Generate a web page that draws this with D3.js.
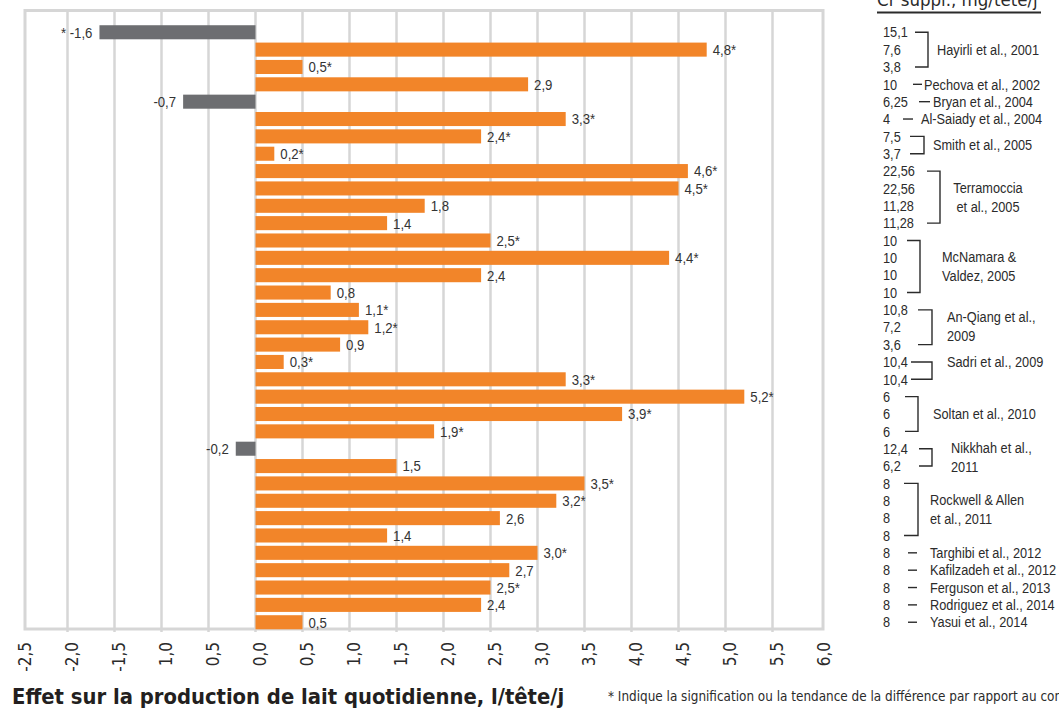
<!DOCTYPE html>
<html><head><meta charset="utf-8">
<script src="https://cdn.jsdelivr.net/npm/d3@7"></script>
<style>
html,body{margin:0;padding:0;background:#fff;}
svg{display:block;}
text{font-family:"Liberation Sans",Arial,sans-serif;}
.cond{font-family:"DejaVu Sans Condensed","DejaVu Sans",sans-serif;font-stretch:condensed;}
</style></head>
<body><svg id="c" width="1059" height="710"></svg>
<script>
// ---- data ----
const values = [-1.66, 4.8, 0.5, 2.9, -0.77, 3.3, 2.4, 0.2, 4.6, 4.5, 1.8, 1.4, 2.5, 4.4, 2.4, 0.8, 1.1, 1.2, 0.9, 0.3, 3.3, 5.2, 3.9, 1.9, -0.21, 1.5, 3.5, 3.2, 2.6, 1.4, 3.0, 2.7, 2.5, 2.4, 0.5];
const valueLabels = ["* -1,6","4,8*","0,5*","2,9","-0,7","3,3*","2,4*","0,2*","4,6*","4,5*","1,8","1,4","2,5*","4,4*","2,4","0,8","1,1*","1,2*","0,9","0,3*","3,3*","5,2*","3,9*","1,9*","-0,2","1,5","3,5*","3,2*","2,6","1,4","3,0*","2,7","2,5*","2,4","0,5"];
const doses = ["15,1","7,6","3,8","10","6,25","4","7,5","3,7","22,56","22,56","11,28","11,28","10","10","10","10","10,8","7,2","3,6","10,4","10,4","6","6","6","12,4","6,2","8","8","8","8","8","8","8","8","8"];
const studyNames = [["Hayirli et al., 2001"],["Pechova et al., 2002"],["Bryan et al., 2004"],["Al-Saiady et al., 2004"],["Smith et al., 2005"],["Terramoccia","et al., 2005"],["McNamara &","Valdez, 2005"],["An-Qiang et al.,","2009"],["Sadri et al., 2009"],["Soltan et al., 2010"],["Nikkhah et al.,","2011"],["Rockwell & Allen","et al., 2011"],["Targhibi et al., 2012"],["Kafilzadeh et al., 2012"],["Ferguson et al., 2013"],["Rodriguez et al., 2014"],["Yasui et al., 2014"]];
const studyCounts = [3,1,1,1,2,4,4,3,2,3,2,4,1,1,1,1,1];
const xTicks = [-2.5,-2.0,-1.5,-1.0,-0.5,0,0.5,1.0,1.5,2.0,2.5,3.0,3.5,4.0,4.5,5.0,5.5,6.0];
const xTickLabels = ["-2,5","-2,0","-1,5","1,0","0,5","0,0","0,5","1,0","1,5","2,0","2,5","3,0","3,5","4,0","4,5","5,0","5,5","6,0"];
const xTitle = "Effet sur la production de lait quotidienne, l/tête/j";
const doseTitle = "Cr suppl., mg/tête/j";
const footnote = "* Indique la signification ou la tendance de la différence par rapport au contrôle";

// ---- layout (positions / styles) ----
// [tickStart, tickEnd/bracketX, textX, anchor, dy of label block]
const studyLayout = [
 [915,928,937,"start",0],[913,922,924,"start",0],[919,930,933,"start",0],[903,913,921,"start",0],
 [910,924,933,"start",0],[927,940,988,"middle",0],[907,920,942,"start",0],[918,932,947,"start",-1],
 [911,932,947,"start",-8.7],[905,918,933,"start",0],[919,932,951,"start",0],[904,918,930,"start",0],
 [908,917,930,"start",0],[908,917,930,"start",0],[908,917,930,"start",0],[908,917,930,"start",0],[908,917,930,"start",0]
];
const orange = "#f28529", grey = "#6d6e71", gridC = "#d6d6d6", ink = "#2b2b2b";
const SX = 0.88; // horizontal condensation of small text

const svg = d3.select("#c");
const x = d3.scaleLinear().domain([-2.5, 6]).range([20.5, 819.5]);
const y = d3.scaleBand().domain(d3.range(values.length)).range([23.5, 631]).paddingInner(0.19).paddingOuter(0.1);
const bw = y.bandwidth();
const cy = i => y(i) + bw / 2;

const frameL = 25, frameR = 823, frameT = 10.5, frameB = 629;
// grid
svg.append("g").selectAll("line").data(xTicks.slice(1, -1)).join("line")
  .attr("x1", d => x(d)).attr("x2", d => x(d)).attr("y1", frameT).attr("y2", frameB + 3)
  .attr("stroke", gridC).attr("stroke-width", 2.5);
svg.append("rect").attr("x", frameL).attr("y", frameT).attr("width", frameR - frameL).attr("height", frameB - frameT)
  .attr("fill", "none").attr("stroke", gridC).attr("stroke-width", 3);

// bars
svg.append("g").selectAll("rect").data(values).join("rect")
  .attr("x", d => x(Math.min(0, d))).attr("width", d => Math.abs(x(d) - x(0)))
  .attr("y", (d, i) => y(i)).attr("height", bw)
  .attr("fill", d => d < 0 ? grey : orange);

// value labels
svg.append("g").selectAll("text").data(values).join("text")
  .attr("transform", (d, i) => `translate(${d < 0 ? x(d) - 7 : x(d) + 6},${cy(i)}) scale(${SX},1)`)
  .attr("dy", "0.36em")
  .attr("text-anchor", d => d < 0 ? "end" : "start")
  .attr("font-size", 15).attr("fill", "#333")
  .text((d, i) => valueLabels[i]);

// x axis tick labels (rotated)
svg.append("g").selectAll("text").data(xTicks).join("text")
  .attr("class", "cond")
  .attr("transform", d => `translate(${x(d) + 5},642) rotate(-90)`)
  .attr("text-anchor", "end").attr("dy", "0.35em")
  .attr("font-size", 17).attr("fill", ink)
  .text((d, i) => xTickLabels[i]);

// titles
svg.append("text").attr("class", "cond").attr("x", 12).attr("y", 704).attr("font-size", 21.8).attr("font-weight", "bold").attr("fill", "#231f20").text(xTitle);
svg.append("text").attr("class", "cond").attr("x", 608).attr("y", 701).attr("font-size", 13.4).attr("fill", ink).text(footnote);

// dose header (clipped at top)
svg.append("text").attr("class", "cond").attr("x", 877).attr("y", 5.5).attr("font-size", 18.5).attr("fill", ink).text(doseTitle);
svg.append("line").attr("x1", 877).attr("x2", 1041).attr("y1", 12.5).attr("y2", 12.5).attr("stroke", ink).attr("stroke-width", 2);

// dose values
svg.append("g").selectAll("text").data(doses).join("text")
  .attr("transform", (d, i) => `translate(883,${cy(i)}) scale(${SX},1)`)
  .attr("dy", "0.36em")
  .attr("font-size", 14.5).attr("fill", ink).text(d => d);

// studies
let start = 0;
const sg = svg.append("g");
studyNames.forEach((lines, k) => {
  const n = studyCounts[k], L = studyLayout[k];
  const yTop = cy(start), yBot = cy(start + n - 1), yMid = (yTop + yBot) / 2;
  if (n === 1) {
    sg.append("line").attr("x1", L[0]).attr("x2", L[1]).attr("y1", yTop).attr("y2", yTop).attr("stroke", ink).attr("stroke-width", 1.4);
  } else {
    sg.append("path").attr("d", `M${L[0]},${yTop}H${L[1]}V${yBot}H${L[0]}`).attr("fill", "none").attr("stroke", ink).attr("stroke-width", 1.4);
  }
  const lh = 19;
  lines.forEach((t, j) => {
    sg.append("text")
      .attr("transform", `translate(${L[2]},${yMid + L[4] + (j - (lines.length - 1) / 2) * lh}) scale(${SX},1)`)
      .attr("dy", "0.36em")
      .attr("text-anchor", L[3]).attr("font-size", 14.5).attr("fill", ink).text(t);
  });
  start += n;
});
</script></body></html>
